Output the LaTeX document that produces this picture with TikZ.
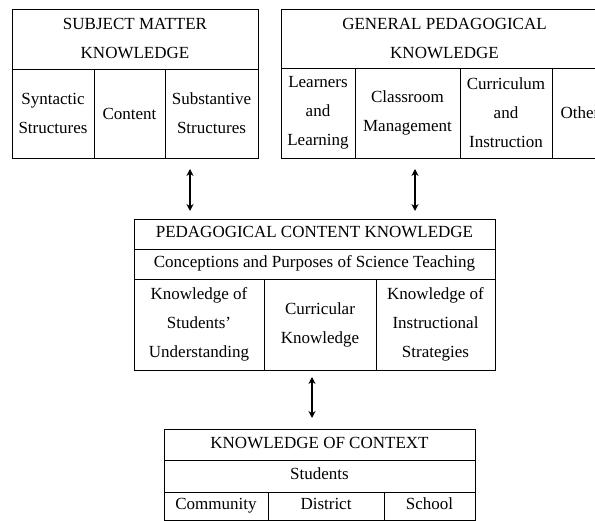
\documentclass[tikz,border=0pt]{standalone}
\usepackage{fontspec}
\setmainfont{Liberation Serif}
\usetikzlibrary{arrows.meta, positioning}

\begin{document}
\begin{tikzpicture}[
            x = 1pt,
            y = -1pt,
            cell/.style = {draw, line width=0.8pt, inner sep=0pt, outer sep=0pt,
                           anchor=north west, align=center,
                           font=\fontsize{17}{29}\selectfont},
            strut/.style = {text height=12pt, text depth=4pt},
            link/.style = {{Stealth[length=7pt,width=7pt]}-{Stealth[length=7pt,width=7pt]},
                           line width=1.6pt}
        ]
        \useasboundingbox (0,0) rectangle (595,521);
        \clip (0,0) rectangle (595,521);

        % subject matter knowledge
        \node[cell, minimum width=246pt, minimum height=60pt] (smk) at (12,9) {SUBJECT MATTER\\KNOWLEDGE};
        \node[cell, minimum width=82pt, minimum height=89pt] (smk1) at (12,69) {Syntactic\\Structures};
        \node[cell, minimum width=71pt, minimum height=89pt] (smk2) at (94,69) {Content};
        \node[cell, minimum width=93pt, minimum height=89pt] (smk3) at (165,69) {Substantive\\Structures};

        % general pedagogical knowledge
        \node[cell, minimum width=327pt, minimum height=59pt] (gpk) at (281,9) {GENERAL PEDAGOGICAL\\KNOWLEDGE};
        \node[cell, minimum width=74pt, minimum height=90pt] (gpk1) at (281,68) {Learners\\and\\Learning};
        \node[cell, minimum width=105pt, minimum height=90pt] (gpk2) at (355,68) {Classroom\\Management};
        \node[cell, minimum width=92pt, minimum height=90pt] (gpk3) at (460,68) {Curriculum\\and\\Instruction};
        \node[cell, minimum width=56pt, minimum height=90pt] (gpk4) at (552,68) {Other};

        % pedagogical content knowledge
        \node[cell, strut, minimum width=361pt, minimum height=30pt] (pck) at (134,219) {PEDAGOGICAL CONTENT KNOWLEDGE};
        \node[cell, strut, minimum width=361pt, minimum height=30pt] (pck0) at (134,249) {Conceptions and Purposes of Science Teaching};
        \node[cell, minimum width=130pt, minimum height=91pt] (pck1) at (134,279) {Knowledge of\\Students'\\Understanding};
        \node[cell, minimum width=112pt, minimum height=91pt] (pck2) at (264,279) {Curricular\\Knowledge};
        \node[cell, minimum width=119pt, minimum height=91pt] (pck3) at (376,279) {Knowledge of\\Instructional\\Strategies};

        % knowledge of context
        \node[cell, strut, minimum width=311pt, minimum height=31pt] (koc) at (164,429) {KNOWLEDGE OF CONTEXT};
        \node[cell, strut, minimum width=311pt, minimum height=32pt] (koc0) at (164,460) {Students};
        \node[cell, strut, minimum width=104pt, minimum height=28pt] (koc1) at (164,492) {Community};
        \node[cell, strut, minimum width=116pt, minimum height=28pt] (koc2) at (268,492) {District};
        \node[cell, strut, minimum width=91pt, minimum height=28pt] (koc3) at (384,492) {School};

        % links
        \coordinate (l1) at (190,169);
        \coordinate (l2) at (190,211);
        \coordinate (r1) at (415,169);
        \coordinate (r2) at (415,211);
        \coordinate (b1) at (312,377);
        \coordinate (b2) at (312,418);
        \draw[link] (l1) -- (l2);
        \draw[link] (r1) -- (r2);
        \draw[link] (b1) -- (b2);
    \end{tikzpicture}
\end{document}
